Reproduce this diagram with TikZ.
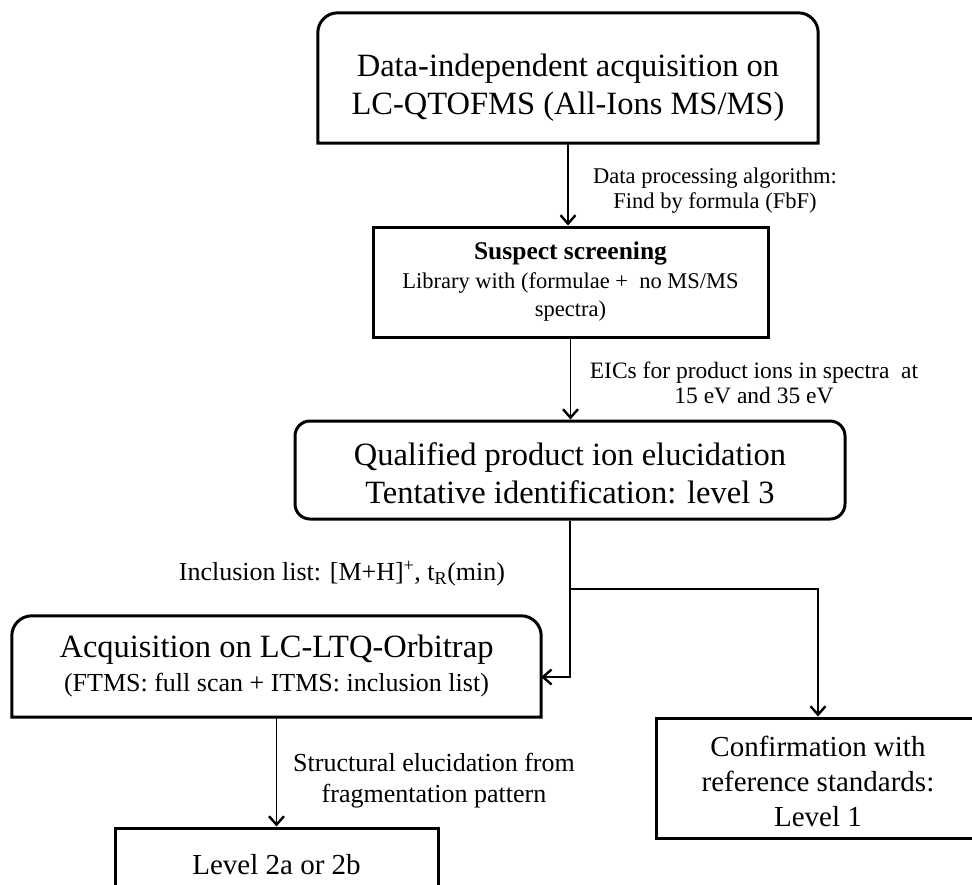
\documentclass[tikz,border=0pt]{standalone}
\usepackage{fontspec}
\setmainfont{Liberation Serif}
\usetikzlibrary{arrows.meta}
\newcommand\fsBig{\fontsize{32.5}{38}\selectfont}
\newcommand\fsMid{\fontsize{29}{35}\selectfont}
\newcommand\fsLab{\fontsize{26}{31}\selectfont}
\newcommand\fsSmall{\fontsize{22.5}{28.5}\selectfont}
\begin{document}
\begin{tikzpicture}[x=1pt,y=1pt,
  boxline/.style={line width=3pt, line join=miter},
  conn/.style={line width=1.5pt, -{Straight Barb[length=8.5pt,width=15pt,line width=2.4pt]}},
  txt/.style={inner sep=0pt, align=center},
  shell/.style={inner sep=0pt},
]
\fill[white] (0,0) rectangle (972,-884);
\useasboundingbox (0,0) rectangle (972,-884);
\clip (0,0) rectangle (972,-884);

% Box 1 (top corners rounded)
\node[shell, minimum width=500pt, minimum height=130pt] (b1) at (568,-78) {};
\draw[boxline] (b1.south west) -- ([yshift=-20pt]b1.north west)
  arc[start angle=180,end angle=90,radius=20pt] -- ([xshift=-20pt]b1.north east)
  arc[start angle=90,end angle=0,radius=20pt] -- (b1.south east) -- cycle;
\node[txt, font=\fsBig] (b1t) at (568,-88)
  {Data-independent acquisition on\\LC-QTOFMS (All-Ions MS/MS)};

% Box 2
\node[shell, draw, boxline, minimum width=395pt, minimum height=110pt] (b2) at (570.5,-282) {};
\node[txt, font=\fsSmall] (b2t) at (570.5,-282)
  {{\fontsize{25.5}{28.5}\selectfont\bfseries Suspect screening}\\Library with (formulae +\ \ no MS/MS\\spectra)};

% Box 3 (all corners rounded)
\node[shell, draw, boxline, rounded corners=15pt, minimum width=550pt, minimum height=98pt] (b3) at (570,-470) {};
\node[txt, font=\fsBig] (b3t) at (570,-473)
  {Qualified product ion elucidation\\Tentative identification: level 3};

% Box 4 (top corners rounded)
\node[shell, minimum width=529pt, minimum height=101pt] (b4) at (276.5,-666.5) {};
\draw[boxline] (b4.south west) -- ([yshift=-20pt]b4.north west)
  arc[start angle=180,end angle=90,radius=20pt] -- ([xshift=-20pt]b4.north east)
  arc[start angle=90,end angle=0,radius=20pt] -- (b4.south east) -- cycle;
\node[txt, font=\fsBig] (b4t) at (276.5,-666)
  {Acquisition on LC-LTQ-Orbitrap\\[-4pt]{\fsLab (FTMS: full scan + ITMS: inclusion list)}};

% Box 5
\node[shell, draw, boxline, minimum width=323pt, minimum height=70pt] (b5) at (276.5,-863) {};
\node[txt, font=\fsMid] (b5t) at (276.5,-865) {Level 2a or 2b};

% Box 6
\node[shell, draw, boxline, minimum width=324pt, minimum height=120pt] (b6) at (818,-778) {};
\node[txt, font=\fsMid] (b6t) at (818,-781)
  {Confirmation with\\reference standards:\\Level 1};

% Labels
\node[txt, font=\fontsize{22.5}{25}\selectfont] (l1) at (715,-191)
  {Data processing algorithm:\\Find by formula (FbF)};
\node[txt, font=\fontsize{23.5}{25}\selectfont] (l2) at (754,-382.5)
  {EICs for product ions in spectra\ \ at\\15 eV and 35 eV};
\node[txt, font=\fsLab] (l3) at (342,-573.5)
  {Inclusion list: [M+H]\textsuperscript{+}, t\textsubscript{R}(min)};
\node[txt, font=\fsLab] (l4) at (434,-781)
  {Structural elucidation from\\fragmentation pattern};

% Connectors
\coordinate (j) at (570,-589);
\coordinate (k) at (570,-677);
\draw[conn] (b1.south) -- (b1.south |- b2.north);
\draw[conn] (b2.south) -- (b2.south |- b3.north);
\draw[conn] (b3.south) -- (k) -- (k -| b4.east);
\draw[conn] (j) -| (b6.north);
\draw[conn] (b4.south) -- (b5.north);
\end{tikzpicture}
\end{document}
